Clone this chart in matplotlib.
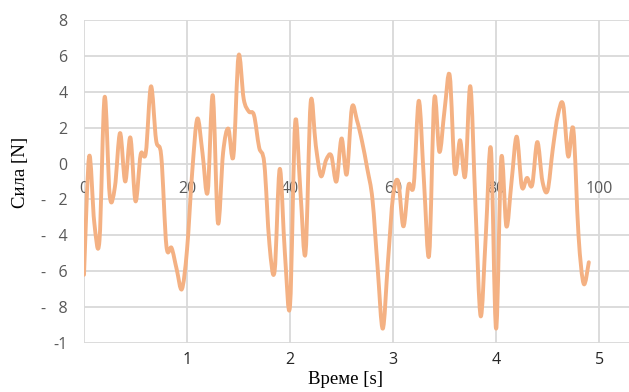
import matplotlib
matplotlib.use("Agg")
import matplotlib.pyplot as plt
from matplotlib.path import Path
from matplotlib.patches import PathPatch
import numpy as np

# ---- data ----
force = [-6.2, 0.4, -3.3, -4.3, 3.7, -1.8, -1.3, 1.7, -1.0, 1.45,
         -2.1, 0.5, 0.6, 4.3, 1.3, 0.4, -4.6, -4.7, -5.9, -7.0,
         -4.8, -0.5, 2.5, 0.6, -1.6, 3.8, -3.3, 0.6, 1.95, 0.4,
         6.0, 3.6, 2.9, 2.7, 0.9, 0.0, -4.5, -6.0, -0.3, -5.0,
         -7.9, 2.3, -1.5, -5.0, 3.4, 1.0, -0.7, 0.2, 0.45, -1.0,
         1.4, -0.6, 3.1, 2.4, 1.2, -0.3, -2.0, -5.8, -9.2, -5.5,
         -1.8, -1.0, -3.5, -1.2, -1.2, 3.5, -1.0, -5.1, 3.6, 0.65,
         3.0, 4.9, -0.5, 1.3, -0.7, 4.3, -2.4, -8.5, -4.0, 0.8,
         -9.2, 0.3, -3.5, -1.0, 1.5, -1.3, -0.8, -1.2, 1.2, -1.0,
         -1.5, 0.8, 2.7, 3.3, 0.4, 1.9, -4.0, -6.7, -5.5]
sample = list(range(len(force)))

y_ticks = [8, 6, 4, 2, 0, -2, -4, -6, -8, -10]
y_tick_labels = ["8", "6", "4", "2", "0", "-   2", "-   4", "-   6", "-   8", "-1"]
inner_x_ticks = [0, 20, 40, 60, 80, 100]
inner_x_labels = ["0", "20", "40", "60", "80", "100"]
bottom_ticks = [20, 40, 60, 80, 100]
bottom_labels = ["1", "2", "3", "4", "5"]

line_color = "#F4B183"
grid_color = "#D9D9D9"
label_color = "#595959"

fig = plt.figure(figsize=(6.29, 3.92), dpi=100)
ax = fig.add_axes([84 / 629, 1 - 343 / 392, 1 - 84 / 629, (343 - 20) / 392])
ax.set_xlim(0, 105.8)
ax.set_ylim(-10, 8)

for s in ax.spines.values():
    s.set_visible(False)

# grid
for yv in y_ticks:
    ax.axhline(yv, color=grid_color, lw=1.3, zorder=1)
for xv in inner_x_ticks:
    ax.axvline(xv, color=grid_color, lw=1.3, zorder=1)

# smoothed line (Excel-like bezier smoothing) built from data points
xs = np.array(sample, dtype=float)
ys = np.array(force, dtype=float)
n = len(xs)
verts = [(xs[0], ys[0])]
codes = [Path.MOVETO]
for i in range(n - 1):
    p0 = (xs[max(i - 1, 0)], ys[max(i - 1, 0)])
    p1 = (xs[i], ys[i])
    p2 = (xs[i + 1], ys[i + 1])
    p3 = (xs[min(i + 2, n - 1)], ys[min(i + 2, n - 1)])
    c1 = (p1[0] + (p2[0] - p0[0]) / 6, p1[1] + (p2[1] - p0[1]) / 6)
    c2 = (p2[0] - (p3[0] - p1[0]) / 6, p2[1] - (p3[1] - p1[1]) / 6)
    verts += [c1, c2, p2]
    codes += [Path.CURVE4] * 3
patch = PathPatch(Path(verts, codes), facecolor="none", edgecolor=line_color,
                  lw=2.8, capstyle="round", joinstyle="round", zorder=3)
ax.add_patch(patch)

# y ticks
ax.set_yticks(y_ticks)
ax.set_yticklabels(y_tick_labels)
ax.tick_params(axis="y", length=0, pad=12, labelsize=11.5, labelcolor=label_color)
for t in ax.get_yticklabels():
    t.set_fontfamily("Open Sans")

# bottom ticks (time)
ax.set_xticks(bottom_ticks)
ax.set_xticklabels(bottom_labels)
ax.tick_params(axis="x", length=0, pad=6.5, labelsize=11.5, labelcolor="#262626")
for t in ax.get_xticklabels():
    t.set_fontfamily("Open Sans")

# inner x labels at zero line
for xv, lab in zip(inner_x_ticks, inner_x_labels):
    ax.annotate(lab, xy=(xv, 0), xytext=(0, -18.4), textcoords="offset points",
                ha="center", va="center", fontsize=11.5, color=label_color,
                family="Open Sans", zorder=2)

fig.text(345 / 629, 1 - 380 / 392, "Време [s]", ha="center", va="center",
         fontsize=13.5, family="Liberation Serif", color="black")
fig.text(20 / 629, 1 - 172.5 / 392, "Сила [N]", ha="center", va="center",
         rotation=90, fontsize=13.5, family="Liberation Serif", color="black")

fig.savefig("out.png", dpi=100, facecolor="white")
